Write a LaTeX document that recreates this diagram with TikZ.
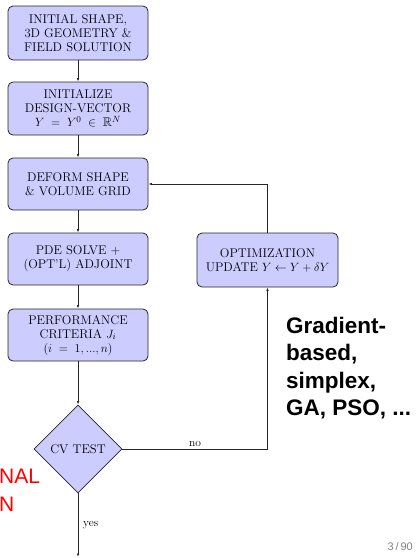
\documentclass[tikz,border=0pt]{standalone}
\usepackage{fontspec}
\usepackage{amssymb}
\newfontfamily\helv{Liberation Sans}
\usetikzlibrary{shapes.geometric,arrows.meta}
\definecolor{boxfill}{RGB}{204,204,255}
\definecolor{pagegray}{RGB}{128,128,128}
\tikzset{
  flowbox/.style={draw=black!85, line width=0.8pt, fill=boxfill, rounded corners=5pt,
    minimum width=140pt, minimum height=53pt, align=center, inner sep=2pt,
    font=\fontsize{12.6}{14}\selectfont},
  decision/.style={diamond, draw=black!85, line width=0.8pt, fill=boxfill, aspect=1,
    minimum width=88pt, minimum height=88pt, inner sep=0pt, font=\fontsize{12.6}{14}\selectfont},
  link/.style={draw=black!85, line width=0.7pt, -{Latex[length=3.5pt,width=2.5pt]}},
  edgelabel/.style={font=\fontsize{11.5}{13}\selectfont, inner sep=1pt},
  bigtext/.style={font=\helv\bfseries\fontsize{22.5}{27.3}\selectfont, align=left, inner sep=0pt},
  redtext/.style={font=\helv\fontsize{21}{28}\selectfont, text=red, align=left, inner sep=0pt}
}
\begin{document}
\begin{tikzpicture}[x=1pt,y=-1pt]
\useasboundingbox (0,0) rectangle (420,558);
\node[flowbox, minimum height=54pt] (init) at (78,33) {INITIAL SHAPE,\\3D GEOMETRY \&\\FIELD SOLUTION};
\node[flowbox] (ivec) at (78,108.5) {INITIALIZE\\DESIGN-VECTOR\\$Y\;=\;Y^0\;\in\;\mathbb{R}^N$};
\node[flowbox, minimum height=52pt] (deform) at (78,184) {DEFORM SHAPE\\\& VOLUME GRID};
\node[flowbox, minimum height=52pt] (pde) at (78,259) {PDE SOLVE +\\(OPT'L) ADJOINT};
\node[flowbox, minimum height=52pt] (perf) at (78,335) {PERFORMANCE\\CRITERIA $J_i$\\$(i\;=\;1,...,n)$};
\node[decision] (cv) at (78,449) {CV TEST};
\node[flowbox, minimum width=141pt, minimum height=54pt] (opt) at (267.5,260) {OPTIMIZATION\\UPDATE $Y \leftarrow Y+\delta Y$};
\coordinate (corner) at (267.5,449);
\coordinate (top) at (267.5,184);
\coordinate (exit) at (78,557);
\draw[link] (init) -- (ivec);
\draw[link] (ivec) -- (deform);
\draw[link] (deform) -- (pde);
\draw[link] (pde) -- (perf);
\draw[link] (perf) -- (cv);
\draw[link] (cv.east) -- (corner) -- (opt.south);
\draw[link] (opt.north) -- (top) -- (deform.east);
\draw[link] (cv.south) -- (exit);
\node[edgelabel, anchor=south] (nolab) at (195,447.5) {no};
\node[edgelabel, anchor=west] (yeslab) at (82,525) {yes};
\node[bigtext, anchor=north west] (methods) at (286,317) {Gradient-\\based,\\simplex,\\GA, PSO, ...};
\node[redtext, anchor=north west] (final) at (-1,469) {NAL\\N};
\node[font=\helv\fontsize{11}{13}\selectfont, text=pagegray, anchor=east, inner sep=0pt] (pg) at (413,547) {3\,/\,90};
\end{tikzpicture}
\end{document}
